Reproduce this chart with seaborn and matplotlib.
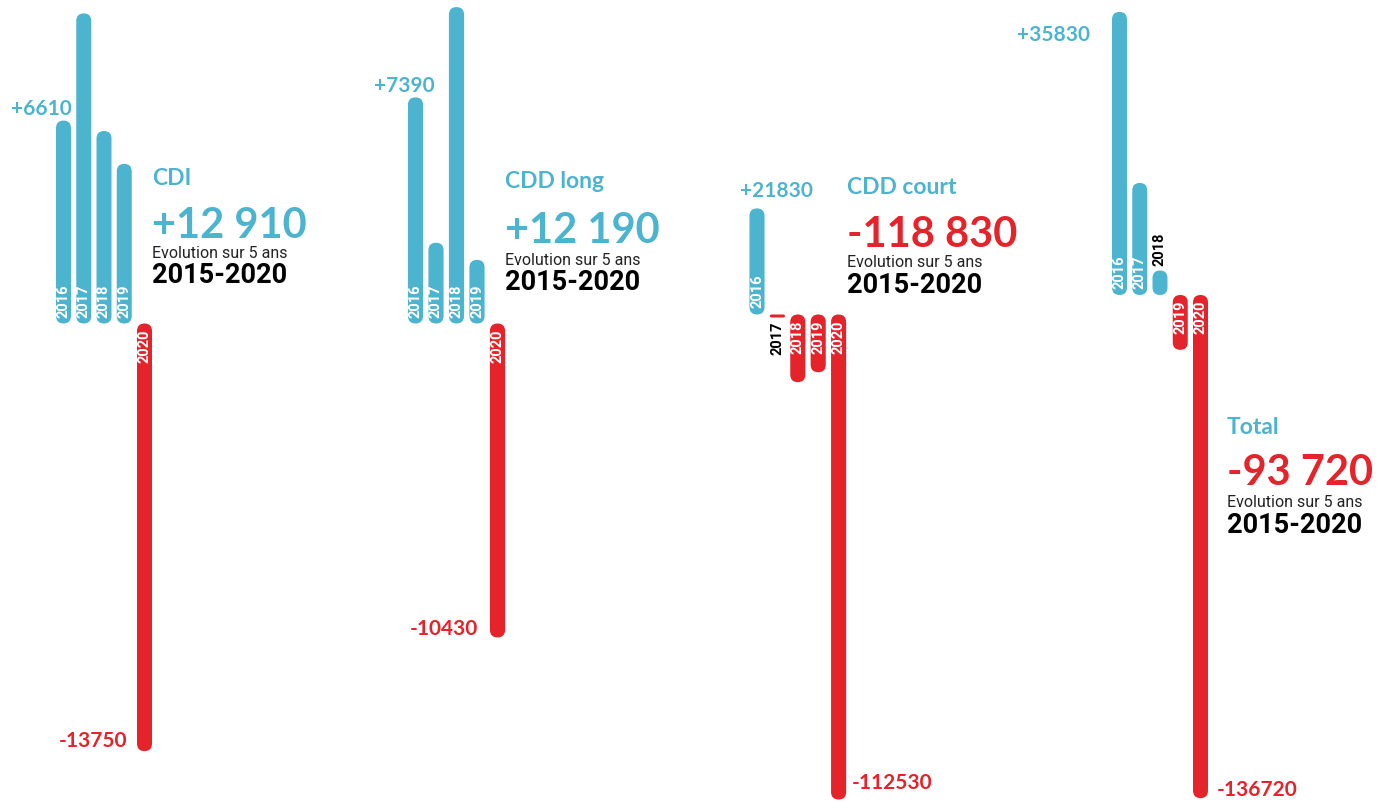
import numpy as np
import matplotlib
matplotlib.use("Agg")
import matplotlib.pyplot as plt
import seaborn as sns
from matplotlib.patches import FancyBboxPatch
from matplotlib.transforms import IdentityTransform

# === DONNÉES (évolution annuelle des contrats) ===
years = ["2016", "2017", "2018", "2019", "2020"]
cdi = [6610, 10100, 6270, 5200, -13750]
cdd_long = [7390, 2640, 10340, 2080, -10430]
cdd_court = [21830, -700, -15700, -13400, -112530]
total = [35830, 14180, 3100, -14900, -136720]
contrats = ["CDI", "CDD long", "CDD court", "Total"]
evolution = [12910, 12190, -118830, -93720]

BLUE = "#4cb4cf"
RED = "#e4232a"
W, H = 1389, 802

sns.set_theme(style="white")
plt.rcParams["font.family"] = ["Roboto", "DejaVu Sans"]
ROUND = ["Lato", "DejaVu Sans"]

fig = plt.figure(figsize=(W / 100, H / 100), dpi=100)

# === MISE EN PAGE (px) : 1re barre, pas, ligne zéro, échelle +/-, bloc texte ===
panels = [
    dict(x0=63.5, dx=20.25, yb=323.5, kp=0.0307, kn=0.0311, tx=152,
         ty=(185, 238, 258, 283), pos_off=(8.5, 12, "right"), neg_off=(-17.5, 10, "right")),
    dict(x0=415.5, dx=20.5, yb=323.5, kp=0.0306, kn=0.0301, tx=505,
         ty=(188, 243, 265, 290), pos_off=(19.5, 11, "right"), neg_off=(-19.5, 8, "right")),
    dict(x0=757, dx=20.4, yb=314.5, kp=0.00486, kn=0.00431, tx=847,
         ty=(194, 247, 267, 293), pos_off=(-17, 17, "left"), neg_off=(13.5, 17, "left")),
    dict(x0=1119.5, dx=20.25, yb=295, kp=0.0079, kn=0.00368, tx=1227,
         ty=(434, 485, 507, 533), pos_off=(-29.5, -23, "right"), neg_off=(16.5, 8.5, "left")),
]

for vals, name, evo, p in zip([cdi, cdd_long, cdd_court, total], contrats, evolution, panels):
    left = p["x0"] - p["dx"] / 2
    ax = fig.add_axes([left / W, 0, 5 * p["dx"] / W, 1])
    signe = ["pos" if v >= 0 else "neg" for v in vals]
    sns.barplot(x=years, y=vals, hue=signe, palette={"pos": BLUE, "neg": RED},
                dodge=False, width=0.74, saturation=1, legend=False, ax=ax)

    # échelle différente au-dessus / en dessous de zéro
    kp, kn = p["kp"], p["kn"]
    ax.set_yscale("function", functions=(
        lambda y, kp=kp, kn=kn: np.where(y >= 0, y * kp, y * kn),
        lambda u, kp=kp, kn=kn: np.where(u >= 0, u / kp, u / kn)))
    ax.set_ylim(-(H - p["yb"]) / kn, p["yb"] / kp)
    ax.set_xlim(-0.5, 4.5)
    ax.axis("off")

    # années dans les barres (ou à côté si la barre est trop courte)
    for i, (yr, v) in enumerate(zip(years, vals)):
        longueur = abs(v) * (kp if v >= 0 else kn)
        va = "bottom" if v >= 0 else "top"
        if longueur > 40:
            xy, off, col = (i, 0), (6 if v >= 0 else -6), "white"
        else:
            xy, off, col = (i, v), (5 if v >= 0 else -4), "black"
        ax.annotate(yr, xy=xy, xytext=(0, off), textcoords="offset pixels", rotation=90,
                    ha="center", va=va, color=col, fontsize=10.5, fontweight="bold",
                    annotation_clip=False, zorder=5)

    # valeurs 2016 et 2020
    for i in (0, 4):
        v = vals[i]
        ox, oy, ha = p["pos_off"] if v >= 0 else p["neg_off"]
        ax.annotate(f"{v:+d}", xy=(i, v), xytext=(ox, oy), textcoords="offset pixels",
                    ha=ha, va="center", color=BLUE if v >= 0 else RED, fontsize=15,
                    fontweight="bold", family=ROUND, annotation_clip=False)

    # bloc texte
    fx = p["tx"] / W
    ty = [1 - y / H for y in p["ty"]]
    fig.text(fx, ty[0], name, color=BLUE, fontsize=16.5, fontweight="bold", family=ROUND, va="baseline")
    fig.text(fx, ty[1], f"{evo:+,}".replace(",", " "), color=BLUE if evo >= 0 else RED,
             fontsize=30, fontweight="bold", family=ROUND, va="baseline")
    fig.text(fx, ty[2], "Evolution sur 5 ans", color="#222222", fontsize=11.5, va="baseline")
    fig.text(fx, ty[3], "2015-2020", color="black", fontsize=19.5, fontweight="bold", va="baseline")

# === BARRES ARRONDIES : on remplace chaque rectangle par une pilule ===
fig.canvas.draw()
renderer = fig.canvas.get_renderer()
for ax in fig.axes:
    for bar in list(ax.patches):
        bb = bar.get_window_extent(renderer)
        r = min(bb.width, bb.height) / 2
        pill = FancyBboxPatch((bb.x0, bb.y0), bb.width, bb.height,
                              boxstyle=f"round,pad=0,rounding_size={r}",
                              transform=IdentityTransform(), facecolor=bar.get_facecolor(),
                              edgecolor="none", zorder=-1)
        fig.add_artist(pill)
        bar.set_visible(False)

fig.savefig("out.png", dpi=100)
